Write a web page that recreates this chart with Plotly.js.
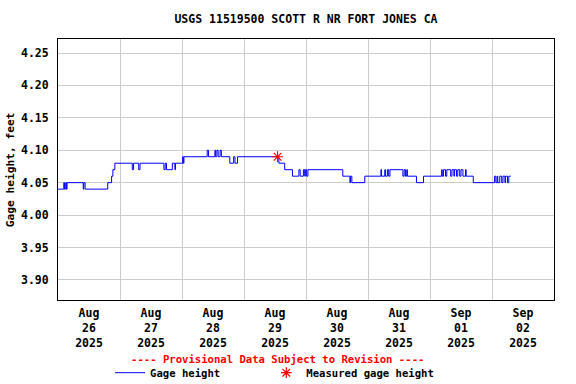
<!DOCTYPE html>
<html>
<head>
<meta charset="utf-8">
<script src="https://cdn.plot.ly/plotly-3.0.1.min.js"></script>
<style>html,body{margin:0;padding:0;background:#fff;}#chart{width:576px;height:384px;}</style>
</head>
<body>
<div id="chart"></div>
<script>
// Gage height step series (time of change, value in feet)
const gageTimes = [
  "2025-08-26 00:00","2025-08-26 02:15","2025-08-26 02:30","2025-08-26 03:00","2025-08-26 03:15","2025-08-26 03:30",
  "2025-08-26 09:45","2025-08-26 10:00","2025-08-26 10:30","2025-08-26 19:15","2025-08-26 20:45","2025-08-26 21:15",
  "2025-08-26 22:00","2025-08-27 04:45","2025-08-27 05:15","2025-08-27 07:15","2025-08-27 07:45","2025-08-27 17:00",
  "2025-08-27 17:30","2025-08-27 18:00","2025-08-27 20:15","2025-08-27 21:15","2025-08-27 21:30","2025-08-28 00:15",
  "2025-08-28 00:30","2025-08-28 00:45","2025-08-28 09:45","2025-08-28 10:15","2025-08-28 12:45","2025-08-28 13:00",
  "2025-08-28 13:30","2025-08-28 14:00","2025-08-28 14:45","2025-08-28 15:15","2025-08-28 18:30","2025-08-28 20:00",
  "2025-08-28 20:30","2025-08-28 21:30","2025-08-29 13:30","2025-08-29 15:45","2025-08-29 18:45","2025-08-29 21:15",
  "2025-08-29 21:45","2025-08-29 23:00","2025-08-29 23:30","2025-08-29 23:45","2025-08-30 00:15","2025-08-30 00:45",
  "2025-08-30 14:15","2025-08-30 17:00","2025-08-30 17:15","2025-08-30 17:45","2025-08-30 22:45","2025-08-31 05:00",
  "2025-08-31 05:15","2025-08-31 06:30","2025-08-31 06:45","2025-08-31 07:30","2025-08-31 08:00","2025-08-31 08:30",
  "2025-08-31 13:30","2025-08-31 14:00","2025-08-31 14:30","2025-08-31 15:00","2025-08-31 15:15","2025-08-31 18:45",
  "2025-08-31 21:30","2025-09-01 04:30","2025-09-01 04:45","2025-09-01 05:15","2025-09-01 06:00","2025-09-01 06:30",
  "2025-09-01 08:00","2025-09-01 08:30","2025-09-01 09:15","2025-09-01 09:30","2025-09-01 10:15","2025-09-01 10:45",
  "2025-09-01 11:30","2025-09-01 12:00","2025-09-01 12:45","2025-09-01 13:45","2025-09-01 14:00","2025-09-01 16:45",
  "2025-09-02 01:00","2025-09-02 01:30","2025-09-02 02:00","2025-09-02 02:15","2025-09-02 03:00","2025-09-02 03:45",
  "2025-09-02 04:15","2025-09-02 05:00","2025-09-02 05:15","2025-09-02 06:00","2025-09-02 06:30","2025-09-02 07:15"
];
const gageValues = [
  4.04,4.05,4.04,4.05,4.04,4.05,
  4.04,4.05,4.04,4.05,4.06,4.07,
  4.08,4.07,4.08,4.07,4.08,4.07,
  4.08,4.07,4.08,4.07,4.08,4.09,
  4.08,4.09,4.10,4.09,4.10,4.09,
  4.10,4.09,4.10,4.09,4.08,4.09,
  4.08,4.09,4.08,4.07,4.06,4.07,
  4.06,4.07,4.06,4.07,4.06,4.07,
  4.06,4.05,4.06,4.05,4.06,4.07,
  4.06,4.07,4.06,4.07,4.06,4.07,
  4.06,4.07,4.06,4.07,4.06,4.05,
  4.06,4.07,4.06,4.07,4.06,4.07,
  4.06,4.07,4.06,4.07,4.06,4.07,
  4.06,4.07,4.06,4.07,4.06,4.05,
  4.06,4.05,4.06,4.05,4.06,4.05,
  4.06,4.05,4.06,4.05,4.06,4.06
];
// Field measurement
const measuredTimes = ["2025-08-29 13:00"];
const measuredValues = [4.09];

// Axis ticks
const xTickVals = ["2025-08-26 12:00","2025-08-27 12:00","2025-08-28 12:00","2025-08-29 12:00",
                   "2025-08-30 12:00","2025-08-31 12:00","2025-09-01 12:00","2025-09-02 12:00"];
const xTickText = ["Aug<br>26<br>2025","Aug<br>27<br>2025","Aug<br>28<br>2025","Aug<br>29<br>2025",
                   "Aug<br>30<br>2025","Aug<br>31<br>2025","Sep<br>01<br>2025","Sep<br>02<br>2025"];
const xRange = ["2025-08-26 00:00","2025-09-03 00:00"];
const yRange = [3.869, 4.2716];

const titleText = "USGS 11519500 SCOTT R NR FORT JONES CA";
const yTitle = "Gage height, feet";
const noteText = "---- Provisional Data Subject to Revision ----";

const FONT = {family: "DejaVu Sans Mono, monospace", size: 11.5, color: "#000", weight: "bold"};
const SMALL = {family: "DejaVu Sans Mono, monospace", size: 10.6, color: "#000", weight: "bold"};

const traces = [
  {
    x: gageTimes, y: gageValues, type: "scatter", mode: "lines",
    line: {color: "#0000ff", width: 1, shape: "hv"},
    name: "Gage height", hoverinfo: "skip", legend: "legend"
  },
  {
    x: measuredTimes, y: measuredValues, type: "scatter", mode: "markers",
    marker: {symbol: "asterisk-open", size: 9, color: "#ff0000", line: {color: "#ff0000", width: 1.2}},
    name: "Measured gage height", hoverinfo: "skip", legend: "legend2"
  }
];

const legendBase = {
  orientation: "h", xref: "paper", yref: "paper", y: -0.2785, yanchor: "middle", xanchor: "left",
  font: SMALL, bgcolor: "rgba(0,0,0,0)", itemwidth: 30
};

const layout = {
  width: 576, height: 384,
  margin: {l: 58, r: 22, t: 39, b: 84, pad: 0, autoexpand: false},
  paper_bgcolor: "#fff", plot_bgcolor: "#fff",
  font: FONT,
  title: {text: titleText, font: FONT, x: 0.5, xref: "paper", y: 0.95, yref: "container", yanchor: "middle"},
  xaxis: {
    type: "date", range: xRange, tickmode: "array", tickvals: xTickVals, ticktext: xTickText,
    showgrid: false, ticks: "", zeroline: false, ticklabelstandoff: 2,
    showline: true, linecolor: "#000", linewidth: 1, mirror: true,
    tickfont: FONT, fixedrange: true,
    minor: {tickmode: "linear", tick0: "2025-08-26 00:00", dtick: 86400000, showgrid: true,
            gridcolor: "#cccccc", gridwidth: 1, ticks: ""}
  },
  yaxis: {
    range: yRange, tickmode: "linear", tick0: 3.9, dtick: 0.05, tickformat: ".2f",
    showgrid: true, gridcolor: "#cccccc", gridwidth: 1, ticks: "", zeroline: false,
    showline: true, linecolor: "#000", linewidth: 1, mirror: true,
    tickfont: FONT, ticklabelstandoff: 6, fixedrange: true
  },
  showlegend: true,
  legend: Object.assign({}, legendBase, {x: 0.105}),
  legend2: Object.assign({}, legendBase, {x: 0.42}),
  annotations: [
    {text: noteText, xref: "paper", yref: "paper", x: 0.442, y: -0.226, yanchor: "middle",
     showarrow: false, font: {family: SMALL.family, size: 10.6, color: "#ff0000", weight: "bold"}},
    {text: yTitle, xref: "paper", yref: "paper", x: -0.0955, y: 0.5, xanchor: "center", yanchor: "middle",
     textangle: -90, showarrow: false, font: {family: FONT.family, size: 11.2, color: "#000", weight: "bold"}}
  ]
};

Plotly.newPlot("chart", traces, layout, {displayModeBar: false, staticPlot: true});
</script>
</body>
</html>
